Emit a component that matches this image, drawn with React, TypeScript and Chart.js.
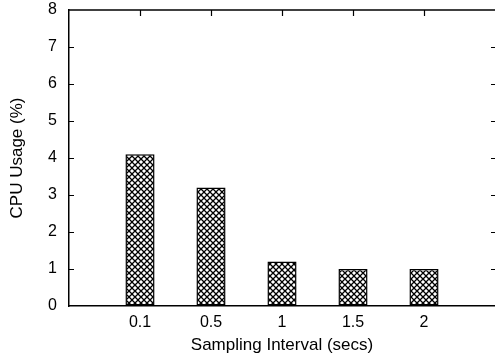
import React, { useEffect, useRef } from "react";
import { Chart, registerables } from "chart.js";

Chart.register(...registerables);

// Sampling intervals (seconds) and the CPU usage measured at each one
const intervals = ["0.1", "0.5", "1", "1.5", "2"];
const cpuUsage = [4.1, 3.2, 1.2, 1.0, 1.0];
const yTicks = [0, 1, 2, 3, 4, 5, 6, 7, 8];

const FONT = "'Liberation Sans', Arial, Helvetica, sans-serif";

function makeCrossHatch(ctx: CanvasRenderingContext2D): CanvasPattern | string {
  const tile = document.createElement("canvas");
  const s = 6;
  tile.width = s;
  tile.height = s;
  const t = tile.getContext("2d");
  if (!t) return "#fff";
  t.fillStyle = "#fff";
  t.fillRect(0, 0, s, s);
  t.strokeStyle = "#000";
  t.lineWidth = 1.3;
  t.beginPath();
  t.moveTo(-1, -1);
  t.lineTo(s + 1, s + 1);
  t.moveTo(-1, s + 1);
  t.lineTo(s + 1, -1);
  t.stroke();
  return ctx.createPattern(tile, "repeat") || "#fff";
}

// gnuplot-style frame: top border plus inward tick marks on the left, right and top
const framePlugin = {
  id: "frame",
  afterDatasetsDraw(chart: any) {
    const { ctx, chartArea, scales } = chart;
    const { left, top } = chartArea;
    const right = chart.width + 2;
    const len = 6;
    ctx.save();
    ctx.strokeStyle = "#000";
    ctx.lineWidth = 1.5;
    ctx.beginPath();
    ctx.moveTo(left, top);
    ctx.lineTo(right, top);
    ctx.stroke();
    ctx.lineWidth = 1.2;
    ctx.beginPath();
    yTicks.forEach((v) => {
      if (v === 0 || v === 8) return;
      const y = Math.round(scales.y.getPixelForValue(v)) + 0.5;
      ctx.moveTo(left, y);
      ctx.lineTo(left + len - 1, y);
      ctx.moveTo(right, y);
      ctx.lineTo(right - len, y);
    });
    intervals.forEach((_, i) => {
      const x = Math.round(scales.x.getPixelForValue(i + 1)) + 0.5;
      ctx.moveTo(x, top);
      ctx.lineTo(x, top + len);
    });
    ctx.stroke();
    ctx.restore();
  },
};

export default function App() {
  const ref = useRef<HTMLCanvasElement | null>(null);

  useEffect(() => {
    document.body.style.margin = "0";
    const canvas = ref.current;
    if (!canvas) return;
    const ctx = canvas.getContext("2d");
    if (!ctx) return;
    const hatch = makeCrossHatch(ctx);

    const chart = new Chart(ctx, {
      type: "bar",
      data: {
        datasets: [
          {
            data: cpuUsage.map((v, i) => ({ x: i + 1, y: v })),
            backgroundColor: hatch as any,
            borderColor: "#000",
            borderWidth: 1.5,
            borderSkipped: false,
            barPercentage: 0.41,
            categoryPercentage: 1,
          },
        ],
      },
      options: {
        responsive: false,
        maintainAspectRatio: false,
        animation: false,
        layout: { padding: { top: 10, right: -2, left: 0, bottom: 0 } },
        plugins: { legend: { display: false }, tooltip: { enabled: false } },
        scales: {
          x: {
            type: "linear",
            offset: false,
            min: 0,
            max: intervals.length + 1,
            afterBuildTicks: (scale: any) => {
              scale.ticks = intervals.map((_, i) => ({ value: i + 1 }));
            },
            afterFit: (scale: any) => {
              scale.height = 58;
              scale.paddingLeft = 0;
              scale.paddingRight = 0;
            },
            grid: { display: true, offset: false, drawOnChartArea: false, drawTicks: false },
            border: { display: true, color: "#000", width: 1.5 },
            ticks: {
              color: "#000",
              font: { family: FONT, size: 16 },
              padding: 7,
              autoSkip: false,
              maxRotation: 0,
              callback: (v: any) => intervals[Number(v) - 1] ?? "",
            },
            title: {
              display: true,
              text: "Sampling Interval (secs)",
              color: "#000",
              font: { family: FONT, size: 17 },
              padding: { top: 0, bottom: 8 },
            },
          },
          y: {
            min: 0,
            max: 8,
            afterBuildTicks: (scale: any) => {
              scale.ticks = yTicks.map((v) => ({ value: v }));
            },
            afterFit: (scale: any) => {
              scale.width = 69;
              scale.paddingTop = 0;
              scale.paddingBottom = 0;
            },
            grid: { display: true, drawOnChartArea: false, drawTicks: false },
            border: { display: true, color: "#000", width: 1.5 },
            ticks: {
              color: "#000",
              font: { family: FONT, size: 16 },
              padding: 12,
            },
            title: {
              display: true,
              text: "CPU Usage (%)",
              color: "#000",
              font: { family: FONT, size: 17 },
              padding: { top: 7, bottom: 0 },
            },
          },
        },
      },
      plugins: [framePlugin],
    });

    return () => chart.destroy();
  }, []);

  return (
    <div style={{ width: 495, height: 364 }}>
      <canvas ref={ref} width={495} height={364} style={{ display: "block" }} />
    </div>
  );
}
